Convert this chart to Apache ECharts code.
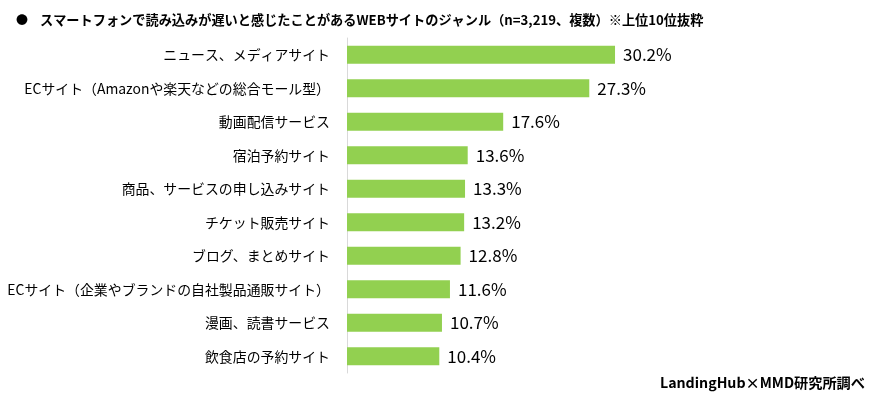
<!DOCTYPE html>
<html><head><meta charset="utf-8">
<script src="https://cdn.jsdelivr.net/npm/echarts@6/dist/echarts.min.js"></script>
<style>html,body{margin:0;padding:0;background:#fff}#c{width:880px;height:396px}</style>
</head><body><div id="c"></div>
<script>
const titleText = 'スマートフォンで読み込みが遅いと感じたことがあるWEBサイトのジャンル（n=3,219、複数）※上位10位抜粋';
const sourceText = 'LandingHub×MMD研究所調べ';
const categories = [
  'ニュース、メディアサイト',
  'ECサイト（Amazonや楽天などの総合モール型）',
  '動画配信サービス',
  '宿泊予約サイト',
  '商品、サービスの申し込みサイト',
  'チケット販売サイト',
  'ブログ、まとめサイト',
  'ECサイト（企業やブランドの自社製品通販サイト）',
  '漫画、読書サービス',
  '飲食店の予約サイト'
];
const values = [30.2, 27.3, 17.6, 13.6, 13.3, 13.2, 12.8, 11.6, 10.7, 10.4];

const font = '"Noto Sans CJK JP", "Noto Sans", sans-serif';
const chart = echarts.init(document.getElementById('c'));
chart.setOption({
  animation: false,
  backgroundColor: '#ffffff',
  title: [
    { text: '●', left: 11, top: 9, textStyle: { fontFamily: font, fontSize: 12, fontWeight: 'bold', color: '#000' } },
    { text: titleText, left: 35, top: 8, textStyle: { fontFamily: font, fontSize: 13.2, fontWeight: 'bold', color: '#000' } },
    { text: sourceText, right: 10, top: 371, textStyle: { fontFamily: font, fontSize: 14.2, fontWeight: 'bold', color: '#000' } }
  ],
  grid: { left: 347, top: 38, width: 355, height: 335, containLabel: false, outerBoundsMode: 'none' },
  xAxis: {
    type: 'value', min: 0, max: 40,
    show: false
  },
  yAxis: {
    type: 'category', data: categories, inverse: true,
    axisLine: { show: true, lineStyle: { color: '#d9d9d9', width: 1 } },
    axisTick: { show: false },
    axisLabel: { margin: 17, fontFamily: font, fontSize: 13.9, color: '#000' }
  },
  series: [{
    type: 'bar', data: values, barWidth: 18,
    itemStyle: { color: '#92d050' },
    label: {
      show: true, position: 'right', distance: 8,
      fontFamily: font, fontSize: 17, color: '#000',
      formatter: p => p.value.toFixed(1) + '%'
    }
  }]
});
</script></body></html>
